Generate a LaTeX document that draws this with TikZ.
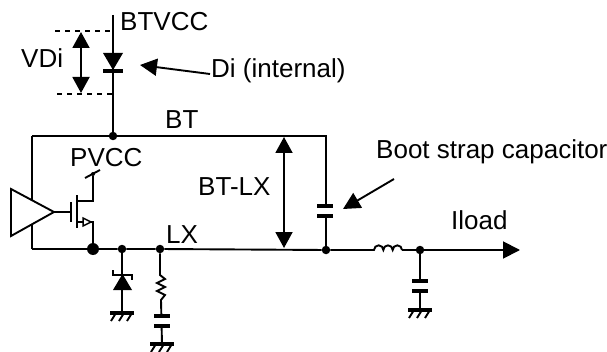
\documentclass[tikz,border=0pt]{standalone}
\usepackage{fontspec}
\setmainfont{Liberation Sans}
\usetikzlibrary{arrows.meta}
\tikzset{
	wire/.style={line width=1.9pt},
	plate/.style={line width=3.3pt},
	dot/.style={shape=circle,fill=black,inner sep=0pt,minimum size=8.5pt},
	bigdot/.style={shape=circle,fill=black,inner sep=0pt,minimum size=12pt},
	tinydot/.style={shape=circle,fill=black,inner sep=0pt,minimum size=4pt},
	lbl/.style={inner sep=0pt,anchor=base west,font=\fontsize{26}{30}\selectfont},
	dim/.style={line width=1.9pt,{Triangle[length=16pt,width=17pt]}-{Triangle[length=16pt,width=17pt]}},
	pointer/.style={line width=1.9pt,-{Triangle[length=17pt,width=17pt]}},
	gnd/.pic={
		\draw[plate] (-12,0) -- (12,0);
		\foreach \x in {-6,2,10} \draw[wire] (\x,0) -- (\x-5,-8);
	},
	cap/.pic={
		\fill[white] (-9,-5) rectangle (9,5);
		\draw[plate] (-8,5) -- (8,5);
		\draw[plate] (-8,-5) -- (8,-5);
	}
}
\begin{document}
\begin{tikzpicture}[x=1pt,y=1pt]
	\useasboundingbox (0,0) rectangle (607,351);

	% junctions
	\node[dot] (bt) at (113, 215) {};
	\node[bigdot] (src) at (93, 102) {};
	\node[dot] (zen) at (122, 102) {};
	\node[dot] (lx) at (160, 102) {};
	\node[dot] (sw) at (326, 101) {};
	\node[dot] (out) at (420, 101) {};
	\node[tinydot] (pv) at (93, 177) {};
	\coordinate (top) at (113, 336);
	\coordinate (btl) at (32, 215);
	\coordinate (btr) at (326, 215);
	\coordinate (lxl) at (32, 102);
	\coordinate (load) at (520, 101);
	\coordinate (drv) at (32, 150);
	\coordinate (drvb) at (32, 126);
	\coordinate (zeng) at (122, 38);
	\coordinate (rcg) at (162, 7);
	\coordinate (outg) at (420, 41);

	% driver and switch
	\coordinate (tip) at (54, 139);
	\draw[wire] (11, 162) -- (11, 115) -- (tip) -- cycle;
	\draw[wire] (btl) -- (drv);
	\draw[wire] (lxl) -- (drvb);
	\draw[wire] (tip) -- (70, 139);
	\draw[line width=2.8pt] (71, 149) -- (71, 129);
	\draw[line width=2.8pt] (77, 156) -- (77, 123);
	\draw[wire] (77, 150) -- (93, 150) -- (pv);
	\draw[wire] (85, 173) -- (100, 181);
	\draw[wire] (77, 129) -- (93, 129) -- (src);
	\draw[line width=1.5pt,fill=white] (91, 129) -- (83, 133) -- (83, 125) -- cycle;

	% wires
	\draw[wire] (top) -- (bt);
	\draw[wire] (lxl) -- (src) -- (zen) -- (lx) -- (sw) -- (365, 101);
	\draw[wire] (btl) -- (bt) -- (btr) -- (sw);
	\draw[wire] (402, 101) -- (out);
	\draw[pointer] (out) -- (load);
	\draw[wire] (365, 101) -- (374, 101) arc[start angle=180,end angle=0,radius=4.67]
		arc[start angle=180,end angle=0,radius=4.67] arc[start angle=180,end angle=0,radius=4.67];

	% BT diode
	\fill (103, 298) -- (123, 298) -- (113, 281) -- cycle;
	\draw[plate] (103, 280) -- (123, 280);
	\draw[wire,dash pattern=on 5pt off 5pt] (55, 320) -- (113, 320);
	\draw[wire,dash pattern=on 5pt off 5pt] (57, 257) -- (113, 257);

	% zener to ground
	\draw[wire] (zen) -- (zeng);
	\fill (113, 61) -- (132, 61) -- (122.5, 77) -- cycle;
	\draw[wire] (113, 81) -- (113, 76) -- (132, 76) -- (132, 71);
	\pic at (zeng) {gnd};

	% snubber
	\draw[wire] (lx) -- (160, 76) -- (165, 72) -- (157, 68) -- (165, 64) -- (157, 60) -- (165, 56) -- (161, 51) -- (rcg);
	\pic at (162, 30) {cap};
	\pic at (rcg) {gnd};

	% bootstrap and output capacitor
	\pic at (325, 140) {cap};
	\draw[wire] (out) -- (outg);
	\pic at (420, 65) {cap};
	\pic at (outg) {gnd};

	% arrows
	\coordinate (vt) at (81, 319);
	\coordinate (vb) at (81, 258);
	\draw[dim] (vt) -- (vb);
	\coordinate (bxt) at (284, 214);
	\coordinate (bxb) at (284, 103);
	\draw[dim] (bxt) -- (bxb);
	\coordinate (dia) at (210, 277);
	\coordinate (dib) at (140, 286);
	\draw[pointer] (dia) -- (dib);
	\coordinate (csa) at (394, 172);
	\coordinate (csb) at (343, 142);
	\draw[pointer] (csa) -- (csb);

	% labels
	\node[lbl] (lbtvcc) at (120, 320) {BTVCC};
	\node[lbl] (lvdi) at (21, 283) {VDi};
	\node[lbl] (ldi) at (211, 273) {Di (internal)};
	\node[lbl] (lbt) at (165, 222) {BT};
	\node[lbl] (lpvcc) at (70, 184) {PVCC};
	\node[lbl] (lbtlx) at (198, 156) {BT-LX};
	\node[lbl] (llx) at (166, 108) {LX};
	\node[lbl] (lboot) at (376, 192) {Boot strap capacitor};
	\node[lbl] (lload) at (451, 122) {Iload};
\end{tikzpicture}
\end{document}
